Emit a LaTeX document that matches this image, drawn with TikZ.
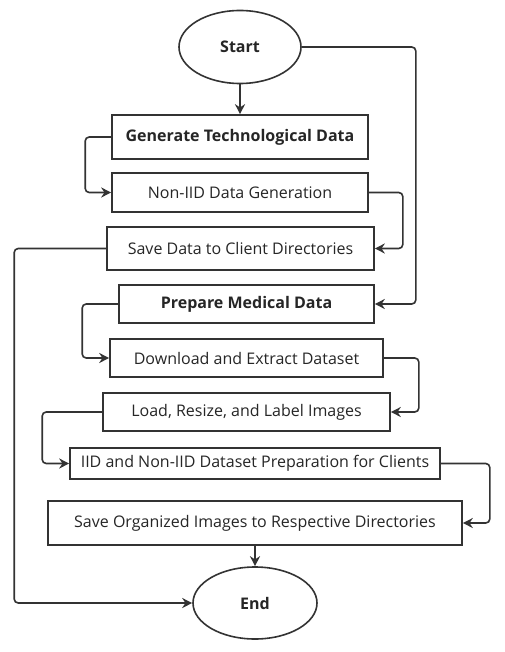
\documentclass[tikz,border=0pt]{standalone}
\usepackage{fontspec}
\setmainfont{Open Sans}
\usetikzlibrary{shapes}
\usetikzlibrary{arrows.meta}
\definecolor{linegray}{HTML}{333333}
\tikzset{
    stepbox/.style = {rectangle, line width=1.6pt, draw=linegray, align=center, fill=white, font=\fontsize{16}{18}\selectfont, text=black!85, inner sep=0pt},
    stepboxb/.style = {stepbox, font=\fontsize{16}{18}\selectfont\bfseries},
    termnode/.style = {ellipse, line width=1.6pt, draw=linegray, align=center, fill=white, font=\fontsize{16}{18}\selectfont\bfseries, text=black!85, inner sep=0pt},
    edgea/.style = {-{Stealth[length=10pt,width=10pt]}, line width=1.6pt, linegray, rounded corners=4pt},
}

\begin{document}
\begin{tikzpicture}[x=1pt,y=-1pt]
\path[use as bounding box] (0,0) rectangle (504,652);

%
\node[termnode, minimum width=122pt, minimum height=73pt] at (240,47) (start) {Start};
\node[stepboxb, minimum width=256pt, minimum height=44pt] at (240,137) (gen) {Generate Technological Data};
\node[stepbox, minimum width=256pt, minimum height=39pt] at (240,192.5) (noniid) {Non-IID Data Generation};
\node[stepbox, minimum width=267pt, minimum height=43pt] at (240.5,248.5) (savedata) {Save Data to Client Directories};
\node[stepboxb, minimum width=255pt, minimum height=38pt] at (246.5,304) (prep) {Prepare Medical Data};
\node[stepbox, minimum width=273pt, minimum height=38pt] at (246.5,358) (download) {Download and Extract Dataset};
\node[stepbox, minimum width=287pt, minimum height=38pt] at (246.5,412) (load) {Load, Resize, and Label Images};
\node[stepbox, minimum width=370pt, minimum height=31pt] at (255,463.5) (iid) {IID and Non-IID Dataset Preparation for Clients};
\node[stepbox, minimum width=414pt, minimum height=44pt] at (255,523) (saveorg) {Save Organized Images to Respective Directories};
\node[termnode, minimum width=124pt, minimum height=72pt] at (255,603) (end) {End};
%
\draw[edgea] (start) -- (gen);
\draw[edgea] (gen.west) -- ++(-26,0) |- (noniid.west);
\draw[edgea] (noniid.east) -- ++(34,0) |- (savedata.east);
\draw[edgea] (start.east) -- ++(114,0) |- (prep.east);
\draw[edgea] (savedata.west) -- ++(-92,0) |- (end.west);
\draw[edgea] (prep.west) -- ++(-36,0) |- (download.west);
\draw[edgea] (download.east) -- ++(35,0) |- (load.east);
\draw[edgea] (load.west) -- ++(-60,0) |- (iid.west);
\draw[edgea] (iid.east) -- ++(49,0) |- (saveorg.east);
\draw[edgea] (saveorg) -- (end);

\end{tikzpicture}
\end{document}
